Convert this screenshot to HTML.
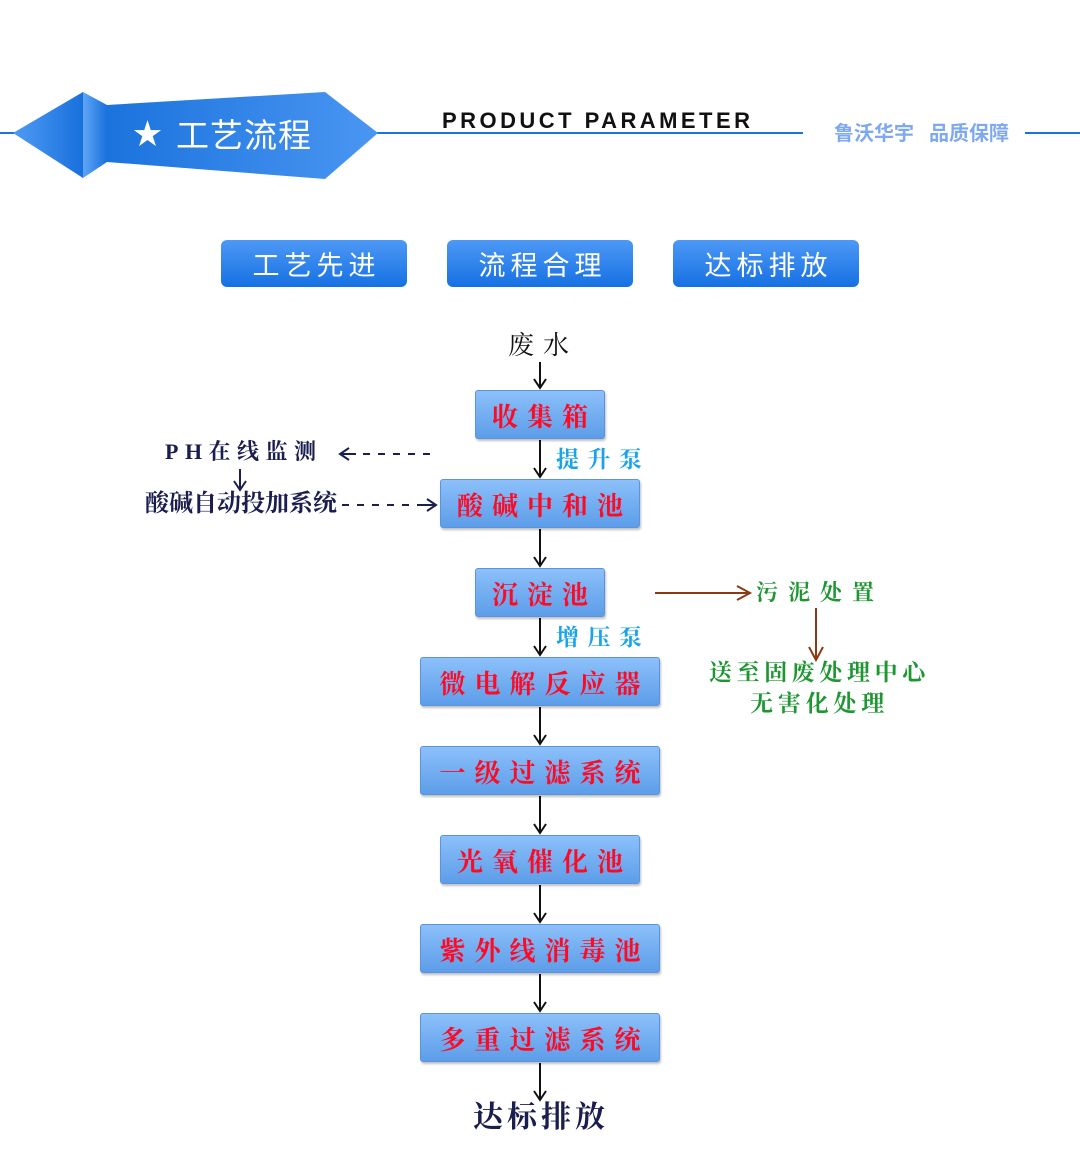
<!DOCTYPE html>
<html>
<head>
<meta charset="utf-8">
<style>
  html,body{margin:0;padding:0;background:#fff;}
  body{width:1080px;height:1164px;position:relative;overflow:hidden;font-family:"Liberation Sans","Noto Sans CJK SC",sans-serif;}
  .abs{position:absolute;white-space:nowrap;}
  .btn{position:absolute;top:240px;width:186px;height:47px;border-radius:6px;
       background:linear-gradient(#4d99f6,#1670e2);color:#fff;
       font-family:"Liberation Sans","Noto Sans CJK SC",sans-serif;font-size:27px;letter-spacing:5px;
       display:flex;align-items:center;justify-content:center;padding-left:5px;box-sizing:border-box;}
  .box{position:absolute;height:49px;box-sizing:border-box;border-radius:3px;
       background:linear-gradient(#8cc0fa,#5d9de9);border:1px solid #5b93dc;
       box-shadow:1px 2px 2px rgba(0,0,0,0.25);
       display:flex;align-items:center;justify-content:center;
       font-family:"Liberation Serif","Noto Serif CJK SC",serif;font-weight:700;
       color:#ff0a24;font-size:26px;letter-spacing:9px;padding-left:9px;padding-top:1px;}
  .serif{font-family:"Liberation Serif","Noto Serif CJK SC",serif;font-weight:700;}
</style>
</head>
<body>

<svg class="abs" style="left:0;top:0" width="1080" height="1164" viewBox="0 0 1080 1164">
  <defs>
    <linearGradient id="gL" x1="0" x2="1" y1="0" y2="0">
      <stop offset="0" stop-color="#4f9bf4"/>
      <stop offset="1" stop-color="#1870dc"/>
    </linearGradient>
    <linearGradient id="gF" x1="0" x2="1" y1="0" y2="0">
      <stop offset="0" stop-color="#5fa5f7"/>
      <stop offset="1" stop-color="#1a72dd"/>
    </linearGradient>
    <linearGradient id="gR" x1="0" x2="1" y1="0" y2="0">
      <stop offset="0" stop-color="#1b73dd"/>
      <stop offset="1" stop-color="#4a96f2"/>
    </linearGradient>
  </defs>
  <!-- header lines -->
  <rect x="0" y="132" width="803" height="2" fill="#1b74dc"/>
  <rect x="1025" y="132" width="55" height="2" fill="#1b74dc"/>
  <!-- banner -->
  <polygon points="13,133 83,92 83,178" fill="url(#gL)"/>
  <polygon points="107,105 325,92 378,133 325,179 107,162" fill="url(#gR)"/>
  <polygon points="83,92 107,105 107,162 83,178" fill="url(#gF)"/>

  <!-- main vertical connectors -->
  <g stroke="#111" stroke-width="2" fill="none">
    <line x1="540" y1="362" x2="540" y2="387"/>
    <polyline points="534,379 540,388 546,379"/>
    <line x1="540" y1="440" x2="540" y2="476"/>
    <polyline points="534,468 540,477 546,468"/>
    <line x1="540" y1="529" x2="540" y2="565"/>
    <polyline points="534,557 540,566 546,557"/>
    <line x1="540" y1="618" x2="540" y2="654"/>
    <polyline points="534,646 540,655 546,646"/>
    <line x1="540" y1="707" x2="540" y2="743"/>
    <polyline points="534,735 540,744 546,735"/>
    <line x1="540" y1="796" x2="540" y2="832"/>
    <polyline points="534,824 540,833 546,824"/>
    <line x1="540" y1="885" x2="540" y2="921"/>
    <polyline points="534,913 540,922 546,913"/>
    <line x1="540" y1="974" x2="540" y2="1010"/>
    <polyline points="534,1002 540,1011 546,1002"/>
    <line x1="540" y1="1063" x2="540" y2="1099"/>
    <polyline points="534,1091 540,1100 546,1091"/>
  </g>

  <!-- PH dashed arrows -->
  <g stroke="#1a1f50" stroke-width="2" fill="none">
    <line x1="348" y1="454" x2="433" y2="454" stroke-dasharray="7,8"/>
    <line x1="341" y1="454" x2="356" y2="454"/>
    <polyline points="349,448 340,454 349,460"/>
    <line x1="342" y1="505" x2="422" y2="505" stroke-dasharray="7,8"/>
    <line x1="420" y1="505" x2="435" y2="505"/>
    <polyline points="427,499 436,505 427,511"/>
    <line x1="240" y1="469" x2="240" y2="489"/>
    <polyline points="234,481 240,490 246,481"/>
  </g>

  <!-- sludge arrows -->
  <g stroke="#8b3a12" stroke-width="2" fill="none">
    <line x1="655" y1="593" x2="749" y2="593"/>
    <polyline points="737,586 750,593 737,600"/>
    <line x1="816" y1="608" x2="816" y2="659"/>
    <polyline points="809,647 816,660 823,647"/>
  </g>

  <!-- PRODUCT PARAMETER -->
  <text x="442" y="128" font-family="Liberation Sans, sans-serif" font-weight="700" font-size="22" fill="#111" textLength="308" lengthAdjust="spacing">PRODUCT PARAMETER</text>
</svg>

<!-- banner text -->
<div class="abs" style="left:133px;top:117px;color:#fff;font-size:29px;line-height:36px;">★</div>
<div class="abs" style="left:176px;top:116px;color:#fff;font-size:33px;line-height:40px;letter-spacing:1px;font-family:'Liberation Sans','Noto Sans CJK SC',sans-serif;">工艺流程</div>

<div class="abs" style="left:834px;top:121px;color:#7ea8f2;font-size:20px;line-height:26px;font-weight:700;font-family:'Liberation Sans','Noto Sans CJK SC',sans-serif;">鲁沃华宇<span style="display:inline-block;width:15px"></span>品质保障</div>

<!-- buttons -->
<div class="btn" style="left:221px;">工艺先进</div>
<div class="btn" style="left:447px;">流程合理</div>
<div class="btn" style="left:673px;">达标排放</div>

<!-- flow labels -->
<div class="abs" style="left:508px;top:329px;font-family:'Liberation Serif','Noto Serif CJK SC',serif;font-size:26px;line-height:34px;color:#111;letter-spacing:9px;">废水</div>

<div class="box" style="left:475px;top:390px;width:130px;">收集箱</div>
<div class="abs serif" style="left:556px;top:445px;font-size:23px;line-height:30px;color:#1aa3e8;letter-spacing:8.5px;">提升泵</div>
<div class="box" style="left:440px;top:479px;width:200px;">酸碱中和池</div>
<div class="box" style="left:475px;top:568px;width:130px;">沉淀池</div>
<div class="abs serif" style="left:556px;top:623px;font-size:23px;line-height:30px;color:#1aa3e8;letter-spacing:8.5px;">增压泵</div>
<div class="box" style="left:420px;top:657px;width:240px;">微电解反应器</div>
<div class="box" style="left:420px;top:746px;width:240px;">一级过滤系统</div>
<div class="box" style="left:440px;top:835px;width:200px;">光氧催化池</div>
<div class="box" style="left:420px;top:924px;width:240px;">紫外线消毒池</div>
<div class="box" style="left:420px;top:1013px;width:240px;">多重过滤系统</div>

<div class="abs serif" style="left:473px;top:1099px;font-size:30px;line-height:38px;color:#1a1d4e;letter-spacing:4px;">达标排放</div>

<!-- PH side -->
<div class="abs serif" style="left:165px;top:437px;font-size:22px;line-height:30px;color:#1a1d4e;letter-spacing:6.5px;">PH在线监测</div>
<div class="abs serif" style="left:145px;top:489px;font-size:24px;line-height:30px;color:#1a1d4e;letter-spacing:0px;">酸碱自动投加系统</div>

<!-- sludge side -->
<div class="abs serif" style="left:756px;top:578px;font-size:22px;line-height:30px;color:#1e9632;letter-spacing:10px;">污泥处置</div>
<div class="abs serif" style="left:709px;top:658px;font-size:23px;line-height:30px;color:#1e9632;letter-spacing:4.6px;">送至固废处理中心</div>
<div class="abs serif" style="left:750px;top:689px;font-size:23px;line-height:30px;color:#1e9632;letter-spacing:4.8px;">无害化处理</div>

</body>
</html>
